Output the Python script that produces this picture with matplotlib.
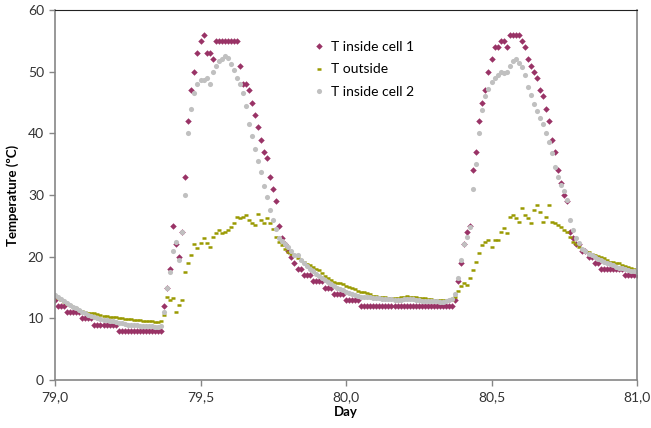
import numpy as np
import matplotlib
matplotlib.use("Agg")
import matplotlib.pyplot as plt
from matplotlib.ticker import FuncFormatter

# Readings every 15 minutes, starting at day 79.0
start_day = 79.0
samples_per_day = 96

t_cell1 = [
    13, 12, 12, 12, 11, 11, 11, 11, 11, 10, 10, 10, 10, 9, 9, 9, 9, 9, 9, 9,
    9, 8, 8, 8, 8, 8, 8, 8, 8, 8, 8, 8, 8, 8, 8, 8, 12, 15, 18, 25,
    22, 20, 24, 33, 42, 47, 50, 53, 55, 56, 53, 53, 52, 55, 55, 55, 55, 55, 55, 55,
    55, 51, 48, 48, 47, 45, 43, 41, 39, 37, 36, 33, 31, 29, 25, 23, 22, 21, 20, 19,
    18, 18, 17, 17, 17, 16, 16, 16, 16, 15, 15, 15, 14, 14, 14, 14, 13, 13, 13, 13,
    13, 12, 12, 12, 12, 12, 12, 12, 12, 12, 12, 12, 12, 12, 12, 12, 12, 12, 12, 12,
    12, 12, 12, 12, 12, 12, 12, 12, 12, 12, 12, 12, 13, 16, 19, 22, 24, 25, 34, 37,
    42, 45, 47, 50, 52, 54, 54, 55, 55, 54, 56, 56, 56, 56, 55, 54, 52, 51, 50, 49,
    47, 46, 44, 42, 39, 37, 34, 32, 30, 29, 24, 23, 22, 22, 21, 21, 20, 20, 19, 19,
    18, 18, 18, 18, 18, 18, 18, 18, 17, 17, 17, 17, 17,
]

t_outside = [
    13.6, 13.3, 13.0, 12.7, 12.4, 12.1, 11.9, 11.6, 11.4, 11.2, 11.0, 10.9, 10.9, 10.8, 10.7, 10.5, 10.4, 10.4, 10.3, 10.2,
    10.2, 10.1, 10.0, 9.9, 9.9, 9.9, 9.8, 9.7, 9.7, 9.6, 9.6, 9.5, 9.5, 9.4, 9.4, 9.5, 10.5, 13.5, 13.0, 13.3,
    11.0, 12.2, 13.0, 17.5, 19.0, 20.2, 22.0, 21.4, 22.2, 23.0, 22.2, 21.6, 23.2, 23.8, 24.3, 23.8, 24.0, 24.4, 24.8, 25.4,
    26.4, 26.2, 26.4, 26.7, 25.9, 25.5, 25.1, 27.0, 25.9, 25.4, 26.2, 25.5, 24.5, 23.2, 22.4, 21.9, 21.2, 20.8, 20.5, 20.2,
    19.8, 19.4, 19.1, 18.8, 18.6, 18.3, 18.0, 17.8, 17.3, 16.9, 16.6, 16.2, 15.9, 15.7, 15.8, 15.6, 15.3, 15.1, 14.9, 14.7,
    14.5, 14.3, 14.2, 14.1, 13.9, 13.7, 13.6, 13.5, 13.4, 13.4, 13.3, 13.3, 13.3, 13.3, 13.4, 13.5, 13.6, 13.5, 13.5, 13.4,
    13.3, 13.3, 13.3, 13.2, 13.1, 13.0, 13.0, 12.9, 12.9, 12.9, 12.9, 13.0, 13.4, 14.5, 15.2, 15.7, 15.4, 16.5, 17.8, 19.1,
    20.6, 21.9, 22.4, 22.7, 21.6, 22.7, 22.7, 24.0, 24.6, 23.8, 26.4, 26.7, 26.2, 25.6, 27.9, 26.7, 26.2, 25.4, 27.5, 28.4,
    27.2, 25.6, 26.4, 28.4, 25.6, 25.4, 25.1, 24.8, 24.3, 24.0, 23.2, 22.4, 22.0, 21.6, 21.2, 20.9, 20.7, 20.5, 20.3, 20.1,
    19.9, 19.8, 19.5, 19.2, 19.1, 19.0, 18.9, 18.7, 18.5, 18.3, 18.1, 18.0, 17.5,
]

t_cell2 = [
    13.8, 13.5, 13.2, 12.8, 12.5, 12.2, 11.9, 11.6, 11.3, 11.0, 10.8, 10.6, 10.4, 10.2, 10.1, 9.9, 9.8, 9.7, 9.6, 9.5,
    9.4, 9.3, 9.2, 9.1, 9.0, 9.0, 8.9, 8.9, 8.8, 8.8, 8.7, 8.7, 8.7, 8.6, 8.6, 8.8, 11.0, 15.0, 17.5, 21.0,
    22.4, 19.5, 24.0, 30.0, 40.0, 44.0, 46.5, 48.0, 48.6, 48.6, 49.0, 48.0, 50.0, 51.0, 51.7, 52.0, 52.5, 52.2, 51.3, 50.3,
    49.0, 48.0, 46.5, 44.5, 41.5, 39.5, 37.5, 35.5, 33.7, 31.5, 29.7, 27.5, 26.0, 24.5, 23.0, 22.5, 22.0, 21.5, 21.0, 20.3,
    20.2, 19.5, 19.0, 18.5, 18.0, 17.6, 17.2, 16.9, 16.6, 16.2, 15.9, 15.6, 15.3, 15.0, 14.8, 14.6, 14.3, 14.1, 13.9, 13.8,
    13.6, 13.5, 13.5, 13.4, 13.4, 13.3, 13.3, 13.3, 13.2, 13.2, 13.1, 13.1, 13.0, 13.0, 13.0, 13.1, 13.2, 13.2, 13.1, 13.0,
    12.9, 12.8, 12.8, 12.8, 12.8, 12.8, 12.8, 12.7, 12.7, 12.8, 12.9, 13.2, 14.0, 16.5, 19.4, 22.0, 23.2, 24.8, 31.0, 35.0,
    40.0, 43.8, 46.0, 47.2, 48.3, 49.0, 49.4, 49.9, 49.8, 49.9, 51.0, 51.8, 52.1, 51.4, 50.7, 49.4, 47.5, 46.2, 44.8, 43.7,
    42.5, 41.5, 40.0, 38.6, 36.8, 34.5, 33.0, 31.6, 30.6, 29.2, 26.0, 24.3, 23.0, 22.2, 21.3, 20.9, 20.5, 20.2, 19.9, 19.6,
    19.4, 19.2, 19.0, 18.8, 18.6, 18.4, 18.2, 18.1, 18.0, 17.9, 17.7, 17.6, 17.5,
]

y_ticks = [0, 10, 20, 30, 40, 50, 60]
x_ticks = [79.0, 79.5, 80.0, 80.5, 81.0]

day = start_day + np.arange(len(t_cell1)) / samples_per_day

plt.rcParams["font.family"] = ["Lato", "DejaVu Sans"]

fig = plt.figure(figsize=(6.51, 4.28), dpi=100)
ax = fig.add_axes([0.0845, 0.1121, 0.894, 0.8645])

ax.plot(day, t_cell1, "D", color="#993366", ms=3.3, mew=0, label="T inside cell 1")
ax.plot(day, t_outside, "_", color="#999900", ms=3.2, mew=1.8, label="T outside")
ax.plot(day, t_cell2, "o", color="#c0c0c0", ms=3.7, mew=0, label="T inside cell 2")

ax.set_xlim(79.0, 81.0)
ax.set_ylim(0, 60)
ax.set_xticks(x_ticks)
ax.set_yticks(y_ticks)
ax.xaxis.set_major_formatter(FuncFormatter(lambda v, p: f"{v:.1f}".replace(".", ",")))

ax.tick_params(direction="out", length=4, width=1, color="#868686",
               labelsize=10, labelcolor="#333333", pad=4)
for side in ["left", "bottom", "right"]:
    ax.spines[side].set_color("#868686")
    ax.spines[side].set_linewidth(1.2)
ax.spines["top"].set_color("#222222")
ax.spines["top"].set_linewidth(0.8)

ax.set_xlabel("Day", fontsize=9.5, fontweight="bold", labelpad=2)
ax.set_ylabel("Temperature (ºC)", fontsize=9.5, fontweight="bold", labelpad=6)

ax.legend(loc="upper left", bbox_to_anchor=(0.42, 0.95), frameon=False,
          fontsize=10, handlelength=1.0, handletextpad=0.4, labelspacing=0.75,
          markerscale=1.0)

fig.savefig("out.png", dpi=100)
